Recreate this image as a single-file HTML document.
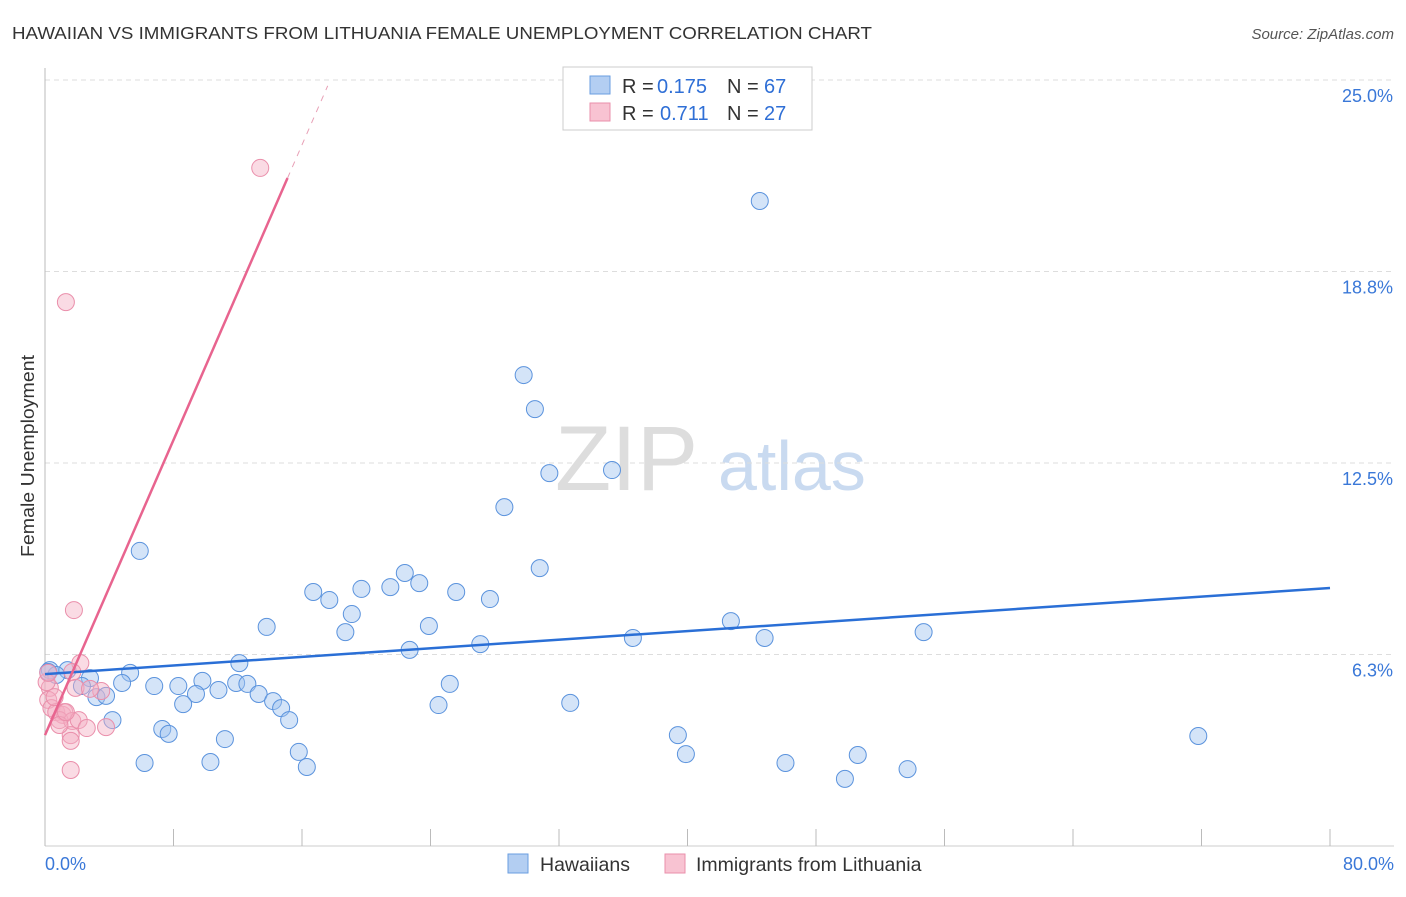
<!DOCTYPE html>
<html><head><meta charset="utf-8"><style>
body{margin:0;background:#fff;font-family:"Liberation Sans",sans-serif;}
svg text{font-family:"Liberation Sans",sans-serif;}
</style></head><body>
<svg id="chart" width="1406" height="892">
<text x="12" y="39" font-size="17.5" fill="#333" textLength="860" lengthAdjust="spacingAndGlyphs">HAWAIIAN VS IMMIGRANTS FROM LITHUANIA FEMALE UNEMPLOYMENT CORRELATION CHART</text>
<text x="1394" y="39" font-size="15" fill="#555" text-anchor="end" font-style="italic">Source: ZipAtlas.com</text>
<text x="34" y="456" font-size="18" fill="#333" text-anchor="middle" textLength="202" lengthAdjust="spacingAndGlyphs" transform="rotate(-90 34 456)">Female Unemployment</text>
<text x="555" y="490" font-size="92" fill="#ddd" font-family="Liberation Serif">ZIP</text>
<text x="718" y="490" font-size="70" fill="#c9daf0">atlas</text>
<g id="grid"></g><g id="marks"></g>
<g>
<rect x="563" y="67" width="249" height="63" fill="#fff" stroke="#ccc"/>
<rect x="590" y="76" width="20" height="18" fill="#b3cef2" stroke="#6a9ee0"/>
<rect x="590" y="103" width="20" height="18" fill="#f8c3d2" stroke="#ea8fab"/>
<text x="622" y="93" font-size="20" fill="#333">R =</text>
<text x="657" y="93" font-size="20" fill="#2f6fd6">0.175</text>
<text x="727" y="93" font-size="20" fill="#333">N =</text>
<text x="764" y="93" font-size="20" fill="#2f6fd6">67</text>
<text x="622" y="120" font-size="20" fill="#333">R =</text>
<text x="660" y="120" font-size="20" fill="#2f6fd6">0.711</text>
<text x="727" y="120" font-size="20" fill="#333">N =</text>
<text x="764" y="120" font-size="20" fill="#2f6fd6">27</text>
</g>
<g>
<rect x="508" y="854" width="20" height="19" fill="#b3cef2" stroke="#6a9ee0"/>
<text x="540" y="871" font-size="19.5" fill="#333">Hawaiians</text>
<rect x="665" y="854" width="20" height="19" fill="#f8c3d2" stroke="#ea8fab"/>
<text x="696" y="871" font-size="19.5" fill="#333">Immigrants from Lithuania</text>
</g>
</svg>
<script>
const yTicks=[25,18.75,12.5,6.25];
const yTickLabels=["25.0%","18.8%","12.5%","6.3%"];
const xTicks=[0,8,16,24,32,40,48,56,64,72,80];
const blueX=[44.5,29.8,30.5,31.4,35.3,28.6,5.9,30.8,22.4,23.3,21.5,19.7,16.7,25.6,17.7,27.7,19.1,13.8,23.9,18.7,42.7,54.7,36.6,44.8,27.1,22.7,12.1,5.3,1.4,0.3,0.7,2.8,2.3,4.8,6.8,8.3,9.8,11.9,12.6,10.8,9.4,25.2,13.3,3.2,3.8,14.2,8.6,14.7,24.5,32.7,15.2,4.2,7.3,7.7,11.2,39.4,71.8,15.8,39.9,50.6,6.2,10.3,16.3,46.1,53.7,49.8,0.2];
const blueY=[21.05,15.37,14.26,12.17,12.27,11.06,9.63,9.07,8.91,8.58,8.45,8.39,8.29,8.29,8.03,8.06,7.57,7.15,7.18,6.98,7.34,6.98,6.79,6.79,6.59,6.40,5.97,5.65,5.74,5.74,5.58,5.48,5.22,5.32,5.22,5.22,5.39,5.32,5.29,5.09,4.96,5.29,4.96,4.86,4.90,4.73,4.63,4.50,4.60,4.67,4.11,4.11,3.82,3.66,3.49,3.62,3.59,3.07,3.00,2.97,2.71,2.74,2.58,2.71,2.51,2.19,5.68];
const pinkX=[13.4,1.3,1.8,2.2,1.7,0.3,1.9,3.5,0.2,0.4,0.7,1.1,1.2,0.9,1.7,2.1,2.6,1.6,1.6,1.6,3.8,0.1,0.6,0.9,1.3,2.8,0.2];
const pinkY=[22.13,17.75,7.70,5.97,5.68,5.16,5.16,5.06,4.77,4.50,4.37,4.28,4.37,4.11,4.08,4.11,3.85,3.62,3.43,2.48,3.88,5.35,4.86,3.95,4.37,5.13,5.65];
const blueTrend=[5.61,8.42];
const pinkTrend=[3.62,1.204];
const NS="http://www.w3.org/2000/svg";
const X=v=>45+v/80*1285, Y=v=>846-v/25*766;
const grid=document.getElementById('grid'), marks=document.getElementById('marks');
function mk(tag,attrs,parent){const e=document.createElementNS(NS,tag);for(const k in attrs)e.setAttribute(k,attrs[k]);parent.appendChild(e);return e;}
yTicks.forEach((t,i)=>{
 const l=mk('line',{x1:45,x2:1394,y1:Y(t),y2:Y(t),stroke:'#ddd','stroke-dasharray':'5,4'},grid);
 
 
 const tx=mk('text',{x:1393,y:Y(t)+22,'font-size':18,fill:'#3a78d8','text-anchor':'end'},grid);
 tx.textContent=yTickLabels[i];
 
 
});
const ax=mk('line',{x1:45,x2:45,y1:68,y2:846,stroke:'#bbb'},grid);


const bx=mk('line',{x1:45,x2:1394,y1:846,y2:846,stroke:'#ccc'},grid);


xTicks.forEach(t=>{
 const l=mk('line',{x1:X(t),x2:X(t),y1:829,y2:846,stroke:'#bbb'},grid);
 
 
});
const xl=mk('text',{x:45,y:870,'font-size':18,fill:'#3a78d8'},grid);xl.textContent=xTicks[0].toFixed(1)+'%';


const xr=mk('text',{x:1394,y:870,'font-size':18,fill:'#3a78d8','text-anchor':'end'},grid);xr.textContent=xTicks[xTicks.length-1].toFixed(1)+'%';


blueX.forEach((v,i)=>{
 const c=mk('circle',{cx:X(v),cy:Y(blueY[i]),r:8.5,fill:'rgba(160,195,240,0.45)',stroke:'#5b93dd','stroke-width':1},marks);
 
 
});
pinkX.forEach((v,i)=>{
 const c=mk('circle',{cx:X(v),cy:Y(pinkY[i]),r:8.5,fill:'rgba(245,175,195,0.45)',stroke:'#ea8fab','stroke-width':1},marks);
 
 
});
const bt=mk('line',{x1:X(0),y1:Y(blueTrend[0]),x2:X(80),y2:Y(blueTrend[1]),stroke:'#2a6fd6','stroke-width':2.5},marks);


const pe=15.1, pd=17.6;
const pt=mk('line',{x1:X(0),y1:Y(pinkTrend[0]),x2:X(pe),y2:Y(pinkTrend[0]+pinkTrend[1]*pe),stroke:'#e8648f','stroke-width':2.5},marks);


const pdl=mk('line',{x1:X(pe),y1:Y(pinkTrend[0]+pinkTrend[1]*pe),x2:X(pd),y2:Y(pinkTrend[0]+pinkTrend[1]*pd),stroke:'#e8a0b6','stroke-width':1,'stroke-dasharray':'6,6'},marks);


</script>
</body></html>
